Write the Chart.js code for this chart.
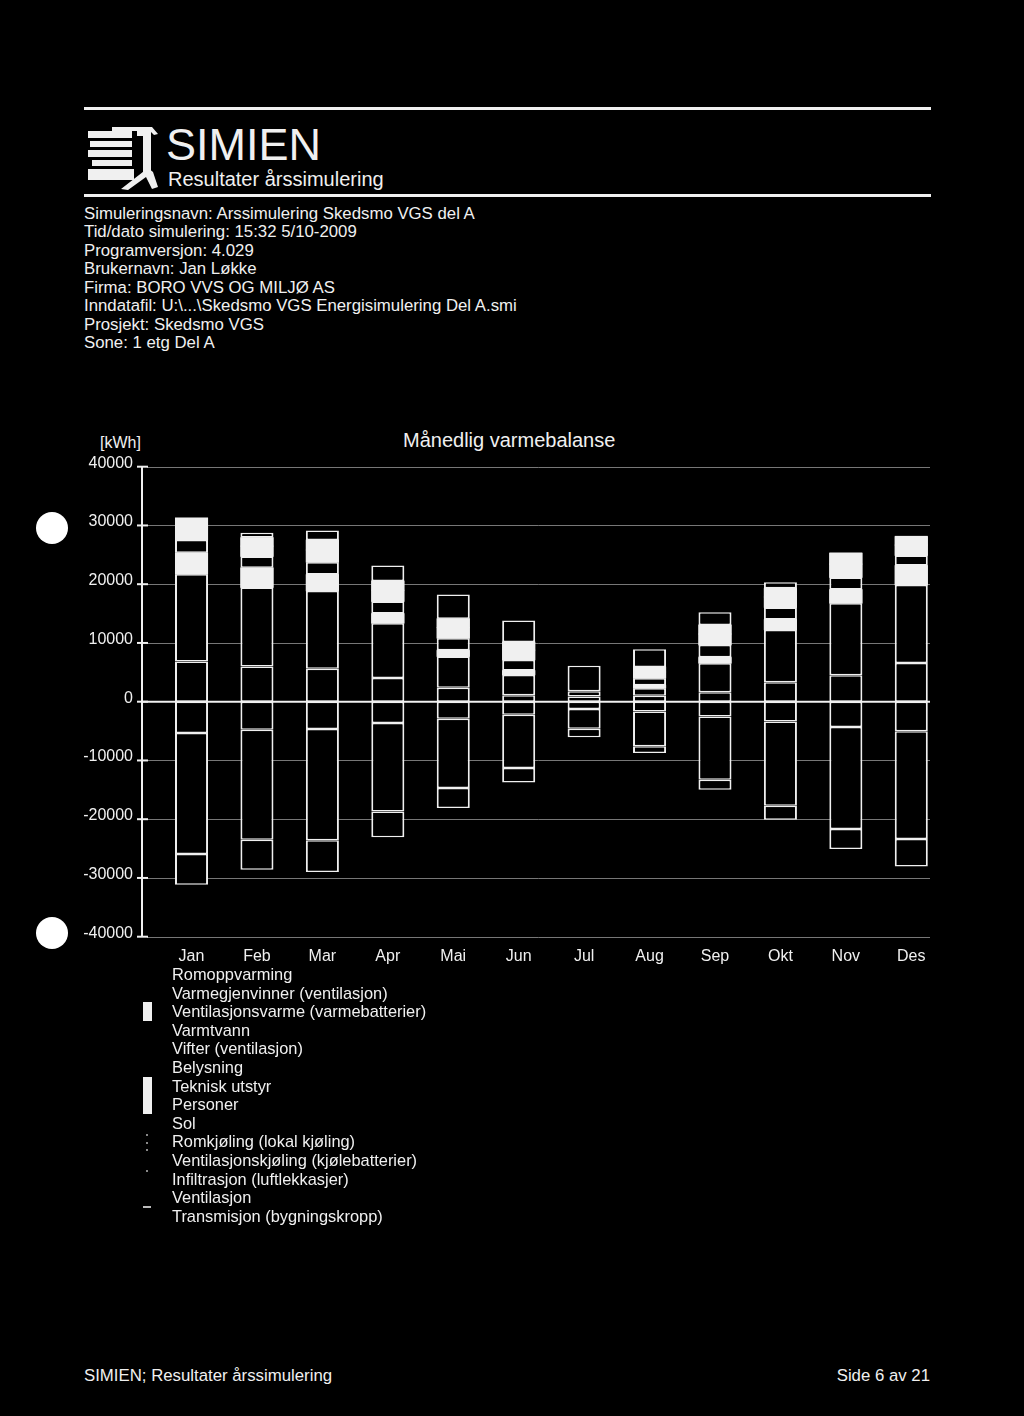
<!DOCTYPE html>
<html><head><meta charset="utf-8">
<script src="https://cdn.jsdelivr.net/npm/chart.js@4.4.1/dist/chart.umd.min.js"></script>
<style>
html,body{margin:0;padding:0;background:#000;}
body{width:1024px;height:1416px;position:relative;overflow:hidden;font-family:"Liberation Sans",Arial,Helvetica,sans-serif;color:#f0f0f0;}
.abs{position:absolute;white-space:nowrap;}
.rule{position:absolute;left:84px;width:847px;height:3px;background:#f0f0f0;}
.info{position:absolute;left:84px;top:204.8px;font-size:16.8px;line-height:18.5px;white-space:pre;}
.hole{position:absolute;left:36px;width:32px;height:32px;border-radius:50%;background:#fff;}
#legend{position:absolute;left:0;top:965px;width:600px;}
.lrow{position:relative;height:18.6px;line-height:18.6px;font-size:16.4px;}
.lrow span.t{position:absolute;left:172px;top:0;white-space:nowrap;}
.lrow span.m{position:absolute;left:143px;top:0;width:9px;height:18.6px;}
.speck{position:absolute;background:#888;}
</style></head>
<body>
<div class="rule" style="top:107px"></div>
<svg class="abs" style="left:0;top:0" width="200" height="200" viewBox="0 0 200 200">
  <g fill="#f0f0f0">
    <polygon points="112,127 152,127 158,134 154,135 150,131 112,131"/>
    <rect x="137" y="131" width="14" height="5"/>
    <rect x="143" y="136" width="8" height="36"/>
    <rect x="88" y="131" width="44" height="7"/>
    <rect x="90" y="141" width="42" height="6"/>
    <rect x="88" y="150" width="44" height="7"/>
    <rect x="92" y="160" width="40" height="6"/>
    <rect x="88" y="169" width="46" height="11"/>
    <polygon points="121,189 148,168 153,172 158,187 152,189 146,177 128,190"/>
  </g>
</svg>
<div class="abs" style="left:166px;top:121.9px;font-size:45px;line-height:45px;">SIMIEN</div>
<div class="abs" style="left:168px;top:169px;font-size:20px;line-height:20px;">Resultater årssimulering</div>
<div class="rule" style="top:194px"></div>
<div class="info">Simuleringsnavn: Arssimulering Skedsmo VGS del A
Tid/dato simulering: 15:32 5/10-2009
Programversjon: 4.029
Brukernavn: Jan Løkke
Firma: BORO VVS OG MILJØ AS
Inndatafil: U:\...\Skedsmo VGS Energisimulering Del A.smi
Prosjekt: Skedsmo VGS
Sone: 1 etg Del A</div>

<div class="hole" style="top:512px"></div>
<div class="hole" style="top:917px"></div>

<div class="abs" style="left:100px;top:434.5px;font-size:16px;line-height:16px;">[kWh]</div>
<div class="abs" style="left:403px;top:429.8px;font-size:20px;line-height:20px;">Månedlig varmebalanse</div>

<canvas id="c" width="1024" height="580" style="position:absolute;left:0;top:400px;width:1024px;height:580px;"></canvas>
<div id="legend"></div>
<div class="speck" style="left:146px;top:1134px;width:2px;height:2px;"></div>
<div class="speck" style="left:146px;top:1142px;width:2px;height:2px;"></div>
<div class="speck" style="left:146px;top:1149px;width:2px;height:2px;"></div>
<div class="speck" style="left:146px;top:1170px;width:2px;height:2px;"></div>
<div class="speck" style="left:143px;top:1206px;width:8px;height:2px;background:#bbb;"></div>

<div class="abs" style="left:84px;top:1365.6px;font-size:16.8px;line-height:19px;">SIMIEN; Resultater årssimulering</div>
<div class="abs" style="right:94px;top:1365.6px;font-size:16.8px;line-height:19px;">Side 6 av 21</div>

<script>
const months = ['Jan','Feb','Mar','Apr','Mai','Jun','Jul','Aug','Sep','Okt','Nov','Des'];
const seriesNames = ['Romoppvarming','Varmegjenvinner (ventilasjon)','Ventilasjonsvarme (varmebatterier)','Varmtvann','Vifter (ventilasjon)','Belysning','Teknisk utstyr','Personer','Sol','Romkjøling (lokal kjøling)','Ventilasjonskjøling (kjølebatterier)','Infiltrasjon (luftlekkasjer)','Ventilasjon','Transmisjon (bygningskropp)'];
const yTicks = [40000,30000,20000,10000,0,-10000,-20000,-30000,-40000];

// kWh per month
const romoppvarming      = [6860, 6010, 5620, 4030, 2380, 1100,  900, 1020, 1590, 3290, 4520, 6590];
const varmegjenvinner    = [14840,13420,13230, 9330, 5300, 3460,  860, 1270, 4960, 8930,12240,13290];
const ventilasjonsvarme  = [3640, 3350, 2800, 1660, 1090,  750,    0,  520, 1030, 1780, 2340, 3310];
const varmtvann          = [0,0,0,0,0,0,0,0,0,0,0,0];
const vifter             = [0,0,0,0,0,0,0,0,0,0,0,0];
const belysning          = [2200, 1930, 2090, 2030, 2030, 1800,    0, 1180, 2080, 2030, 2040, 1690];
const tekniskUtstyr      = [2040, 1760, 2080, 1910, 1820, 1660,    0, 1040, 1860, 1790, 2280, 1780];
const personer           = [1690, 1460, 1720, 1600, 1520, 1400,    0,  890, 1550, 1490, 1890, 1480];
const sol                = [   0,  820, 1610, 2630, 4110, 3660, 4370, 3020, 2170, 1040,    0,    0];
const romkjoling         = [0,0,0,0,0,0,0,0,0,0,0,0];
const ventilasjonskjoling= [0,0,0,0,0,0,0,0,0,0,0,0];
const infiltrasjon       = [-5330,-4770,-4650,-3630,-2890,-2210,-1250,-1650,-2500,-3350,-4310,-5050];
const ventilasjon        = [-20600,-18720,-18950,-15040,-11810,-9080,-3350,-5950,-10780,-14350,-17360,-18320];
const transmisjon        = [-5220,-5110,-5390,-4420,-3400,-2450,-1470,-1140,-1700,-2390,-3400,-4660];

const seriesData = [romoppvarming,varmegjenvinner,ventilasjonsvarme,varmtvann,vifter,belysning,tekniskUtstyr,personer,sol,romkjoling,ventilasjonskjoling,infiltrasjon,ventilasjon,transmisjon];
const WHITE = '#f0f0f0', BLACK = '#000000';
const seriesFill = [BLACK,BLACK,WHITE,BLACK,BLACK,BLACK,WHITE,WHITE,BLACK,BLACK,BLACK,BLACK,BLACK,BLACK];
const FONT = '"Liberation Sans", Arial, Helvetica, sans-serif';

// paints solid (seam-free) white segments over the library's own bar elements
const whiteSolid = {
  id: 'whiteSolid',
  afterDatasetsDraw(chart) {
    const ctx = chart.ctx;
    ctx.save();
    ctx.fillStyle = WHITE;
    chart.data.datasets.forEach((ds, i) => {
      if (seriesFill[i] !== WHITE) return;
      chart.getDatasetMeta(i).data.forEach(el => {
        const p = el.getProps(['x', 'y', 'base', 'width'], true);
        const h = Math.abs(p.base - p.y);
        if (h < 0.01) return;
        ctx.fillRect(p.x - p.width / 2, Math.min(p.y, p.base) - 0.5, p.width, h + 1);
      });
    });
    ctx.restore();
  }
};

const axisDecor = {
  id: 'axisDecor',
  beforeDatasetsDraw(chart) {
    const ctx = chart.ctx, y = chart.scales.y;
    ctx.save();
    ctx.strokeStyle = 'rgba(170,170,170,0.7)';
    ctx.lineWidth = 1;
    yTicks.forEach(v => {
      if (v === 0) return;
      const py = Math.round(y.getPixelForValue(v)) + 0.5;
      ctx.beginPath(); ctx.moveTo(147, py); ctx.lineTo(930, py); ctx.stroke();
    });
    ctx.restore();
  },
  afterDatasetsDraw(chart) {
    const ctx = chart.ctx, y = chart.scales.y;
    ctx.save();
    ctx.strokeStyle = WHITE; ctx.fillStyle = WHITE;
    ctx.lineWidth = 2;
    const top = y.getPixelForValue(40000), bot = y.getPixelForValue(-40000);
    ctx.beginPath(); ctx.moveTo(142, top); ctx.lineTo(142, bot); ctx.stroke();
    const z = y.getPixelForValue(0);
    ctx.beginPath(); ctx.moveTo(142, z); ctx.lineTo(930, z); ctx.stroke();
    ctx.font = '16px ' + FONT;
    ctx.textAlign = 'right'; ctx.textBaseline = 'alphabetic';
    yTicks.forEach(v => {
      const py = y.getPixelForValue(v);
      ctx.beginPath(); ctx.moveTo(137, py); ctx.lineTo(148, py); ctx.stroke();
      ctx.fillText(String(v), 133, py + 1);
    });
    ctx.restore();
  }
};

new Chart(document.getElementById('c'), {
  type: 'bar',
  data: {
    labels: months,
    datasets: seriesNames.map((name, i) => {
      const isWhite = seriesFill[i] === WHITE;
      return {
        label: name,
        data: seriesData[i],
        backgroundColor: seriesFill[i],
        borderColor: WHITE,
        borderWidth: isWhite ? 0 : {top: 1.5, bottom: 1.5, left: 2, right: 2},
        borderSkipped: false,
        inflateAmount: 0,
        barPercentage: 0.505,
        categoryPercentage: 1
      };
    })
  },
  options: {
    responsive: false,
    devicePixelRatio: 1,
    animation: false,
    layout: { padding: { left: 158.8, right: 80, top: 66.7, bottom: 0 } },
    plugins: { legend: { display: false }, tooltip: { enabled: false }, title: { display: false } },
    scales: {
      x: {
        stacked: true,
        grid: { display: false, drawTicks: false },
        border: { display: false },
        ticks: { color: WHITE, font: { family: FONT, size: 16 }, padding: 10, maxRotation: 0, autoSkip: false },
        afterFit: s => { s.height = 43.3; }
      },
      y: { stacked: true, display: false, min: -40000, max: 40000, ticks: { stepSize: 10000 } }
    }
  },
  plugins: [whiteSolid, axisDecor]
});

// legend
const leg = document.getElementById('legend');
seriesNames.forEach((name, i) => {
  const row = document.createElement('div');
  row.className = 'lrow';
  const m = document.createElement('span');
  m.className = 'm';
  m.style.background = seriesFill[i];
  const t = document.createElement('span');
  t.className = 't';
  t.textContent = name;
  row.appendChild(m); row.appendChild(t);
  leg.appendChild(row);
});
</script>
</body></html>
